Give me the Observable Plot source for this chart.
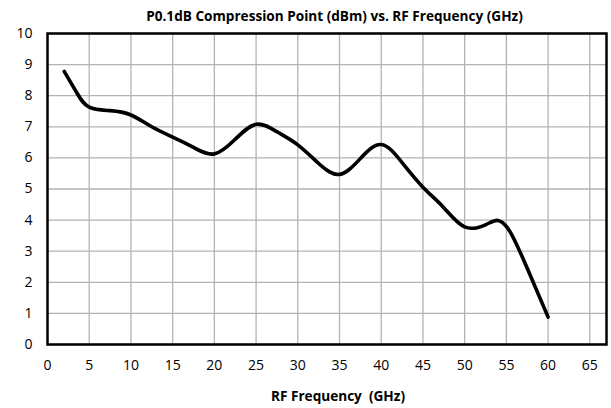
<!DOCTYPE html>
<html>
<head>
<meta charset="utf-8">
<script src="https://cdn.jsdelivr.net/npm/d3@7"></script>
<script src="https://cdn.jsdelivr.net/npm/@observablehq/plot@0.6"></script>
<style>
  html, body { margin: 0; padding: 0; background: #fff; }
</style>
</head>
<body>
<div id="chart"></div>
<script>
const chartTitle = "P0.1dB Compression Point (dBm) vs. RF Frequency (GHz)";
const xTitle = "RF Frequency  (GHz)";
const freqGHz = [2, 3.5, 5, 7.5, 10, 12.5, 15, 17.5, 20, 22.5, 25, 27.5, 30, 32.5, 35, 37.5, 40, 42.5, 45, 47.5, 50, 52.5, 54, 55.5, 57.5, 60];
const p01dBm  = [8.78, 8.1, 7.63, 7.52, 7.38, 7.0, 6.67, 6.34, 6.13, 6.6, 7.08, 6.84, 6.42, 5.82, 5.47, 5.98, 6.43, 5.85, 5.06, 4.4, 3.78, 3.85, 3.99, 3.6, 2.45, 0.88];
const xTicks = [0, 5, 10, 15, 20, 25, 30, 35, 40, 45, 50, 55, 60, 65];
const yTicks = [0, 1, 2, 3, 4, 5, 6, 7, 8, 9, 10];

const data = freqGHz.map((f, i) => ({f, p: p01dBm[i]}));

const chart = Plot.plot({
  width: 611,
  height: 408,
  marginLeft: 47,
  marginRight: 5,
  marginTop: 33,
  marginBottom: 64,
  style: {fontFamily: "'Open Sans', sans-serif", fontSize: "14px", color: "#000", background: "#fff"},
  x: {domain: [0, 67], ticks: xTicks},
  y: {domain: [0, 10], ticks: yTicks},
  marks: [
    Plot.gridX(xTicks, {stroke: "#b3b3b3", strokeOpacity: 1, strokeWidth: 1.3}),
    Plot.gridY(yTicks, {stroke: "#b3b3b3", strokeOpacity: 1, strokeWidth: 1.3}),
    Plot.axisX(xTicks, {tickSize: 0, tickPadding: 16, label: null, fontSize: 14, fill: "#000"}),
    Plot.axisY(yTicks, {tickSize: 0, tickPadding: 15, label: null, fontSize: 14, fill: "#000"}),
    Plot.line(data, {x: "f", y: "p", curve: "natural", stroke: "#000", strokeWidth: 3.6, strokeLinejoin: "round"}),
    Plot.frame({stroke: "#000", strokeWidth: 2.5}),
    Plot.text([chartTitle], {frameAnchor: "top", dx: 7.5, dy: -16.5, lineAnchor: "middle", fontWeight: "bold", fontSize: 13.6, fill: "#000"}),
    Plot.text([xTitle], {frameAnchor: "bottom", dx: 11, dy: 52.5, lineAnchor: "middle", fontWeight: "bold", fontSize: 13.6, fill: "#000"})
  ]
});
document.getElementById("chart").appendChild(chart);
</script>
</body>
</html>
